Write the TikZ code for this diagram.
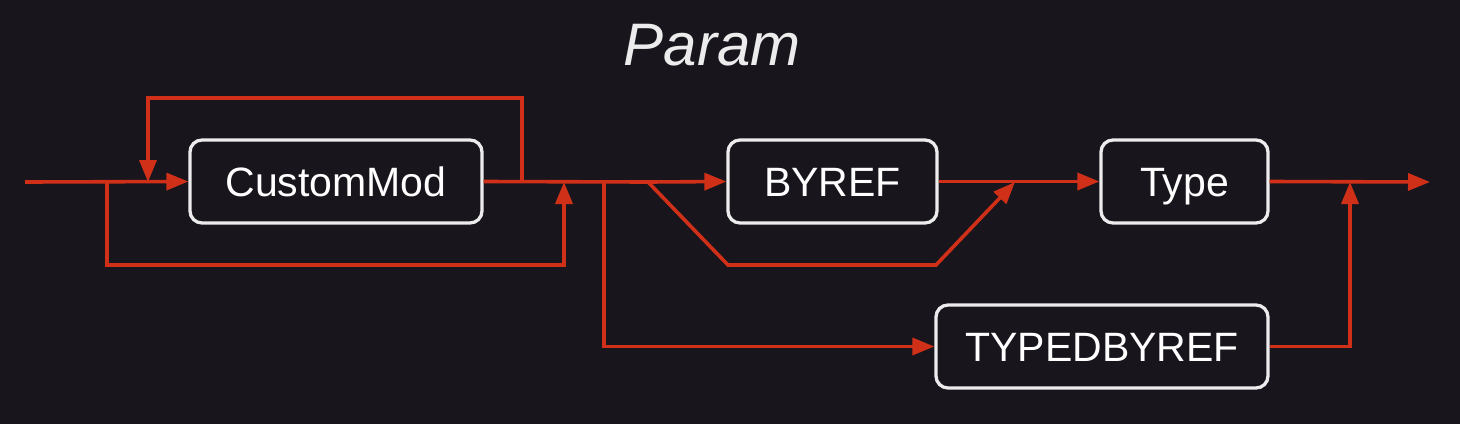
\documentclass[tikz,border=0pt]{standalone}
\usepackage{fontspec}
\setmainfont{Liberation Sans}
\usepackage{xcolor}
\usepackage{tikz}
\usetikzlibrary{arrows.meta, positioning, calc}
\definecolor{bgColor}{RGB}{24,21,29}
\definecolor{railColor}{RGB}{208,48,24}
\definecolor{boxColor}{RGB}{236,236,236}

\begin{document}
\begin{tikzpicture}[
    x=1pt, y=-1pt,
    terminal/.style={rectangle, rounded corners=12pt, draw=boxColor, line width=3.3pt, fill=bgColor, text=white, minimum height=83pt, inner sep=0pt, text height=33pt, text depth=4pt, font=\fontsize{41}{41}\selectfont},
    rail/.style={draw=railColor, line width=3.6pt},
    arrow/.style={rail, -{Triangle[length=22pt, width=17pt]}}
]
    % Background and frame
    \fill[bgColor] (0,0) rectangle (1460,424);
    \useasboundingbox (0,0) rectangle (1460,424);

    % Title
    \node[text=boxColor, font=\fontsize{60}{60}\selectfont\itshape] (title) at (712,45) {Param};

    % Terminals
    \node[terminal, minimum width=292pt] (custommod) at (336,181.5) {CustomMod};
    \node[terminal, minimum width=209pt] (byref) at (832.5,181.5) {BYREF};
    \node[terminal, minimum width=167pt] (type) at (1184.5,181.5) {Type};
    \node[terminal, minimum width=332pt] (typedbyref) at (1102,346.5) {TYPEDBYREF};

    % Junctions on the main line
    \coordinate (start) at (25,182);
    \coordinate (skip) at (107,182);
    \coordinate (loopin) at (148,182);
    \coordinate (loopout) at (522,182);
    \coordinate (skipin) at (564,182);
    \coordinate (typedout) at (604,182);
    \coordinate (byrefout) at (648,182);
    \coordinate (byrefin) at (1015,182);
    \coordinate (typedin) at (1350,182);
    \coordinate (end) at (1430,182);

    % Main line
    \draw[arrow] (start) -- (custommod.west);
    \draw[rail] (custommod.east) -- (byrefout);
    \draw[arrow] (byrefout) -- (byref.west);
    \draw[arrow] (byref.east) -- (type.west);
    \draw[arrow] (type.east) -- (end);

    % Repeat and skip around CustomMod
    \draw[arrow] (loopout) |- (148,98) -- (loopin);
    \draw[arrow] (skip) |- (564,265) -- (skipin);

    % Optional BYREF
    \draw[arrow] (byrefout) -- (728,265) -- (936,265) -- (byrefin);

    % TYPEDBYREF branch
    \draw[arrow] (typedout) |- (typedbyref.west);
    \draw[arrow] (typedbyref.east) -| (typedin);
\end{tikzpicture}
\end{document}
